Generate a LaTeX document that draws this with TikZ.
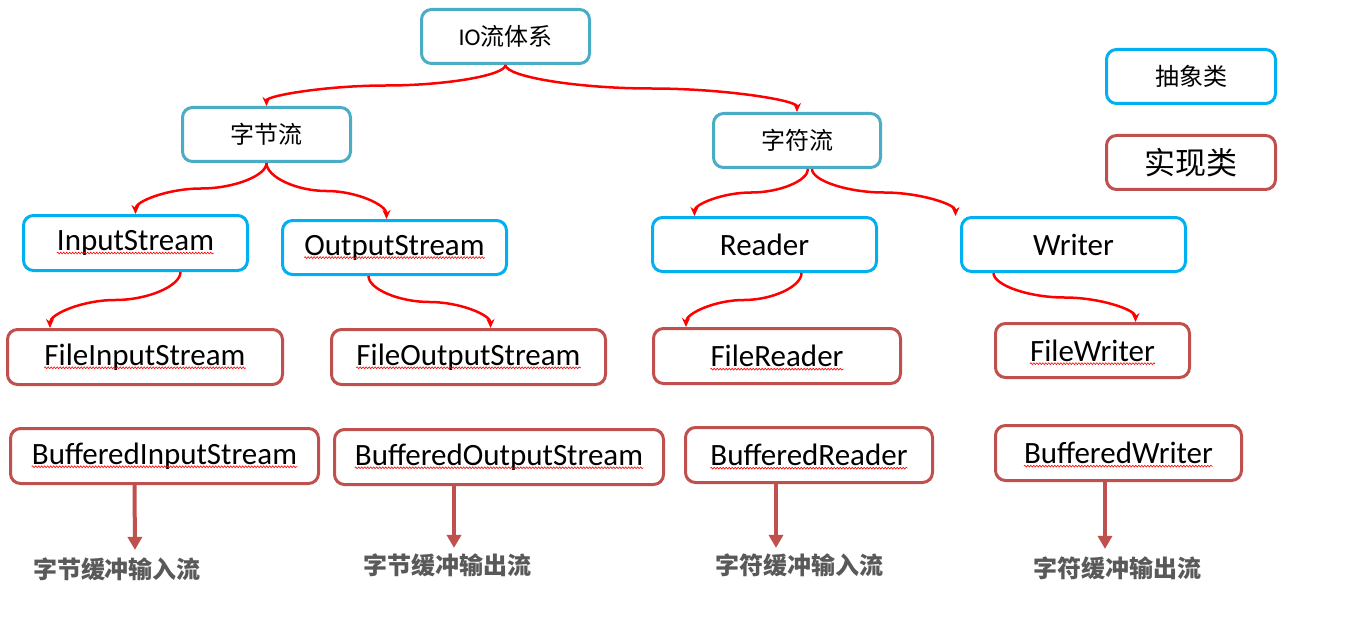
\documentclass[tikz,border=0pt]{standalone}
\usepackage{fontspec}
\setmainfont{Carlito}
\newfontfamily\cjk{Noto Sans CJK SC}
\usetikzlibrary{arrows.meta,calc,decorations.pathmorphing}
\definecolor{tealbd}{HTML}{4BACC6}
\definecolor{bluebd}{HTML}{00B0F0}
\definecolor{redbd}{HTML}{C0504D}
\definecolor{labgray}{HTML}{595959}
\newcommand\sconn[2]{\draw[carrow] let \p1=(#1), \p2=(#2) in
  (\p1) .. controls (\x1,{\y1+(\y2-\y1)/4}) and ({\x1+(\x2-\x1)/4},{(\y1+\y2)/2})
  .. ({(\x1+\x2)/2},{(\y1+\y2)/2})
  .. controls ({\x1+3*(\x2-\x1)/4},{(\y1+\y2)/2}) and (\x2,{\y1+3*(\y2-\y1)/4}) .. (\p2);}
\newcommand\squigunder[1]{\draw[squig] ([yshift=-2.5pt]#1.base west) -- ([yshift=-2.5pt]#1.base east);}
\begin{document}
\begin{tikzpicture}[x=1pt,y=-1pt,
  box/.style={draw, rounded corners=10pt, line width=3pt, fill=white, inner sep=0pt},
  absbox/.style={box, draw=tealbd},
  ifbox/.style={box, draw=bluebd},
  impbox/.style={box, draw=redbd},
  ltxt/.style={inner sep=0pt, font=\fontsize{31}{36}\selectfont},
  ctxt/.style={font=\cjk\fontsize{24}{28}\selectfont},
  labtxt/.style={text=labgray, font=\cjk\bfseries\fontsize{24}{28}\selectfont},
  carrow/.style={draw=red, line width=2.5pt, -{Stealth[length=9pt,width=8pt]}},
  barrow/.style={draw=redbd, line width=4pt, -{Triangle[length=13pt,width=14pt]}},
  squig/.style={draw=red, line width=0.6pt, decorate, decoration={snake, amplitude=0.9pt, segment length=3pt}}
]
\fill[white] (0,0) rectangle (1366,623);
\useasboundingbox (0,0) rectangle (1366,623);

% abstract top-level
\node[absbox, minimum width=168pt, minimum height=54pt, font=\fontsize{24}{28}\selectfont] (io) at (505.5,36.5) {IO{\cjk 流体系}};
\node[absbox, ctxt, minimum width=168pt, minimum height=54pt] (zj) at (266.5,134.5) {字节流};
\node[absbox, ctxt, minimum width=167pt, minimum height=54pt] (zf) at (797,140.5) {字符流};

% legend
\node[ifbox, ctxt, minimum width=169pt, minimum height=54pt] (abs) at (1191,76.5) {抽象类};
\node[impbox, font=\cjk\fontsize{31}{36}\selectfont, minimum width=169pt, minimum height=54pt] (impl) at (1191,162.5) {实现类};

% interfaces (abstract classes)
\node[ifbox, minimum width=224pt, minimum height=55pt] (ins) at (135.5,243) {};
\node[ltxt] (insT) at (ins) {InputStream};
\node[ifbox, minimum width=224pt, minimum height=54pt] (outs) at (394.5,247.5) {};
\node[ltxt] (outsT) at (outs) {OutputStream};
\node[ifbox, minimum width=224pt, minimum height=54pt] (rdr) at (764.5,244.5) {};
\node[ltxt] (rdrT) at (rdr) {Reader};
\node[ifbox, minimum width=224pt, minimum height=54pt] (wtr) at (1073.5,244.5) {};
\node[ltxt] (wtrT) at (wtr) {Writer};

% file implementations
\node[impbox, minimum width=275pt, minimum height=55pt] (fis) at (145,357) {};
\node[ltxt] (fisT) at (fis) {FileInputStream};
\node[impbox, minimum width=274pt, minimum height=55pt] (fos) at (468.5,357) {};
\node[ltxt] (fosT) at (fos) {FileOutputStream};
\node[impbox, minimum width=247pt, minimum height=55pt] (fr) at (777,356) {};
\node[ltxt] (frT) at (fr) {FileReader};
\node[impbox, minimum width=194pt, minimum height=54pt] (fw) at (1092.5,350.5) {};
\node[ltxt] (fwT) at (fw) {FileWriter};

% buffered implementations
\node[impbox, minimum width=308pt, minimum height=55pt] (bis) at (164.5,456) {};
\node[ltxt] (bisT) at (bis) {BufferedInputStream};
\node[impbox, minimum width=329pt, minimum height=55pt] (bos) at (499,457) {};
\node[ltxt] (bosT) at (bos) {BufferedOutputStream};
\node[impbox, minimum width=247pt, minimum height=55pt] (br) at (809,455) {};
\node[ltxt] (brT) at (br) {BufferedReader};
\node[impbox, minimum width=246pt, minimum height=55pt] (bw) at (1118.5,453) {};
\node[ltxt] (bwT) at (bw) {BufferedWriter};

% spell-check underlines
\squigunder{insT}\squigunder{outsT}
\squigunder{fisT}\squigunder{fosT}\squigunder{frT}\squigunder{fwT}
\squigunder{bisT}\squigunder{bosT}\squigunder{brT}\squigunder{bwT}

% bottom labels
\node[labtxt] (l1) at (117,569) {字节缓冲输入流};
\node[labtxt] (l2) at (447,565) {字节缓冲输出流};
\node[labtxt] (l3) at (799,565) {字符缓冲输入流};
\node[labtxt] (l4) at (1117,568) {字符缓冲输出流};

% curved connectors
\sconn{io.south}{zj.north}
\sconn{io.south}{zf.north}
\sconn{zj.south}{ins.north}
\sconn{zj.south}{[xshift=-8pt]outs.north}
\sconn{[xshift=11pt]zf.south}{[xshift=-70pt]rdr.north}
\sconn{[xshift=15pt]zf.south}{[xshift=-118pt]wtr.north}
\sconn{[xshift=45pt]ins.south}{[xshift=-95pt]fis.north}
\sconn{[xshift=-26pt]outs.south}{[xshift=22pt]fos.north}
\sconn{[xshift=37pt]rdr.south}{[xshift=-91pt]fr.north}
\sconn{[xshift=-80pt]wtr.south}{[xshift=43pt]fw.north}

% straight arrows to labels
\draw[barrow] ([xshift=-30pt]bis.south) -- ([xshift=18pt,yshift=4pt]l1.north);
\draw[barrow] ([xshift=-45pt]bos.south) -- ([xshift=7pt,yshift=2pt]l2.north);
\draw[barrow] ([xshift=-33pt]br.south) -- ([xshift=-23pt,yshift=2pt]l3.north);
\draw[barrow] ([xshift=-13.5pt]bw.south) -- ([xshift=-12pt,yshift=4pt]l4.north);
\end{tikzpicture}
\end{document}
